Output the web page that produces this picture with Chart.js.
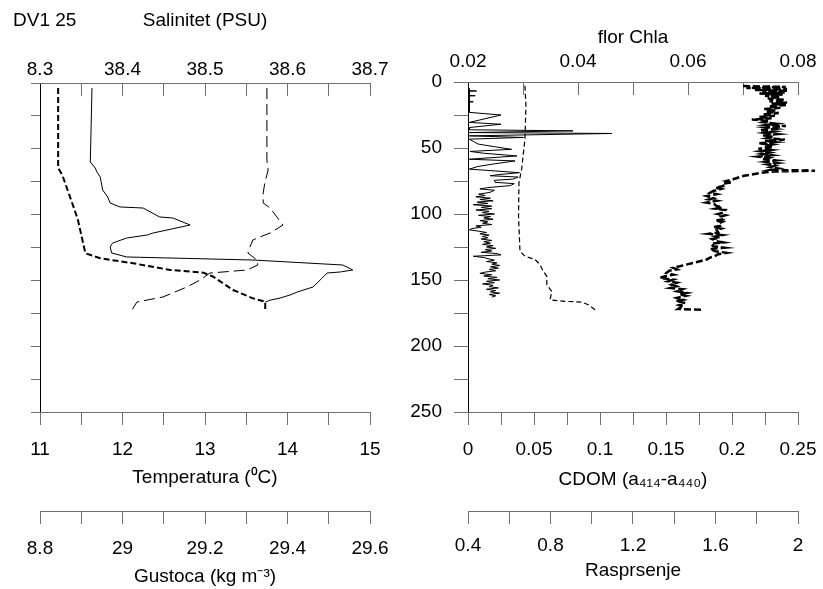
<!DOCTYPE html>
<html>
<head>
<meta charset="utf-8">
<title>DV1 25 profile</title>
<script src="https://cdn.jsdelivr.net/npm/chart.js@4.4.1/dist/chart.umd.min.js"></script>
<style>
  html, body { margin: 0; padding: 0; background: #fff; }
  #wrap { position: relative; width: 823px; height: 589px; overflow: hidden; }
  canvas { position: absolute; top: 0; }
  #left { left: 0; }
  #right { left: 395px; }
</style>
</head>
<body>
<div id="wrap">
  <canvas id="left" width="415" height="589"></canvas>
  <canvas id="right" width="444" height="589"></canvas>
</div>
<script>
// ---- tick labels (labels on every other tick) ----
const depthLabels = ['0', '50', '100', '150', '200', '250'];
const salinityLabels = ['8.3', '38.4', '38.5', '38.6', '38.7'];
const temperatureLabels = ['11', '12', '13', '14', '15'];
const densityLabels = ['8.8', '29', '29.2', '29.4', '29.6'];
const chlaLabels = ['0.02', '0.04', '0.06', '0.08'];
const cdomLabels = ['0', '0.05', '0.1', '0.15', '0.2', '0.25'];
const scatterLabels = ['0.4', '0.8', '1.2', '1.6', '2'];

// ---- left panel: temperature (thick dashed) ----
const tempDepth = [3.8, 64.6, 69.9, 91.2, 104.1, 129.4, 133.2, 137.0, 142.1, 144.1, 147.2, 157.3, 163.6, 166.2, 172.5];
const temperature = [11.22, 11.22, 11.27, 11.39, 11.46, 11.55, 11.73, 12.13, 12.58, 12.98, 13.10, 13.34, 13.58, 13.73, 13.73];

// ---- left panel: salinity (thin solid) ----
const salDepth = [3.8, 60.0, 64.6, 67.6, 71.4, 81.3, 86.6, 91.2, 94.2, 95.0, 101.8, 102.6, 107.9, 114.0, 115.5,
  117.8, 121.6, 124.6, 129.2, 132.2, 134.5, 138.3, 142.1, 143.6, 144.4, 148.2, 155.0, 158.8, 161.1, 163.4, 165.0, 166.5];
const salinity = [38.363, 38.361, 38.367, 38.369, 38.373, 38.376, 38.382, 38.385, 38.397, 38.425, 38.445, 38.461, 38.482, 38.437, 38.430,
  38.405, 38.388, 38.385, 38.387, 38.405, 38.558, 38.667, 38.679, 38.664, 38.648, 38.642, 38.631, 38.612, 38.603, 38.591, 38.579, 38.573];

// ---- left panel: density (thin long dash) ----
const denDepth = [3.8, 20.5, 58.5, 66.1, 76.0, 83.6, 91.2, 95.0, 107.9, 114.0, 117.0, 119.3, 124.6, 129.2, 134.5, 138.3,
  142.1, 144.4, 149.7, 155.0, 162.6, 166.4, 172.5];
const density = [29.350, 29.350, 29.350, 29.353, 29.345, 29.341, 29.341, 29.358, 29.389, 29.358, 29.333, 29.316, 29.309, 29.304, 29.326, 29.328,
  29.302, 29.212, 29.188, 29.156, 29.098, 29.035, 29.023];

// ---- right panel: CDOM (thin solid) ----
const cdomDepth = [5, 6.6, 6.8, 7.0, 10.2, 10.4, 10.6, 14.8, 15.0, 15.2, 23.0, 25.0, 30.6, 32.0, 34.5, 36.2, 37.0, 38.3, 39.0, 40.8,
  42.0, 43.3, 45, 47, 49, 51, 52.6, 54, 56, 58.5, 59.8, 62, 64, 66, 68.7, 70, 71, 72, 73.6, 74.5, 76, 77, 78.5, 80, 81, 82, 83.6, 85,
  86, 87, 88, 89, 90, 91, 92, 93, 94, 95, 96, 97, 98, 99, 100, 101, 102, 103, 104, 105, 106, 107, 108, 109, 110,
  111, 112, 113, 114, 115, 116, 117, 118, 119, 120, 121, 122, 123, 124, 125, 126, 127, 128, 129, 130, 131, 132, 133,
  134, 135, 136, 137, 138, 139, 140, 141, 142, 143, 144, 145, 146, 147, 148, 149, 150, 151, 152, 153, 154, 155, 156,
  157, 158, 159, 160, 161, 162, 163];
const cdom = [0.001, 0.001, 0.0065, 0.001, 0.001, 0.0055, 0.001, 0.001, 0.004, 0.001, 0.001, 0.025, 0.001, 0.025, 0.001, 0.001, 0.0795, 0.001, 0.109, 0.001,
  0.042, 0.001, 0.004, 0.0076, 0.020, 0.033, 0.0015, 0.012, 0.037, 0.001, 0.0356, 0.020, 0.0076, 0.001, 0.039, 0.025, 0.0167, 0.038, 0.034, 0.020, 0.0205, 0.035, 0.032, 0.015, 0.009, 0.020, 0.0167, 0.008,
  0.013, 0.006, 0.017, 0.009, 0.019, 0.007, 0.015, 0.004, 0.018, 0.010, 0.018, 0.006, 0.016, 0.011, 0.020, 0.008, 0.017, 0.012, 0.019, 0.009, 0.015, 0.011, 0.018, 0.006, 0.010,
  0.003, 0.001, 0.008, 0.014, 0.009, 0.016, 0.011, 0.015, 0.010, 0.018, 0.012, 0.017, 0.011, 0.019, 0.014, 0.021, 0.013, 0.018, 0.010, 0.022, 0.025, 0.004, 0.012,
  0.016, 0.020, 0.014, 0.022, 0.018, 0.024, 0.017, 0.023, 0.016, 0.021, 0.013, 0.009, 0.018, 0.012, 0.022, 0.015, 0.024, 0.014, 0.020, 0.011, 0.019, 0.016, 0.023,
  0.014, 0.021, 0.017, 0.024, 0.016, 0.021, 0.018];

// ---- right panel: scattering (thin dashed) ----
const scatDepth = [2.8, 18.0, 43.3, 66.1, 76.2, 101.6, 128.2, 132.0, 134.5, 138.3, 143.4, 147.2, 153.5, 158.6, 165.0, 166.2, 166.7, 168.7, 172.5];
const scattering = [0.676, 0.681, 0.676, 0.660, 0.647, 0.645, 0.652, 0.676, 0.725, 0.749, 0.765, 0.782, 0.782, 0.806, 0.798, 0.870, 0.951, 0.983, 1.016];

// ---- right panel: chlorophyll fluorescence (thick dashed) ----
const chlaDepth = [3.0, 3.8, 4.5, 5.3, 6.0, 6.6, 7.3, 8.0, 8.7, 9.5, 10.5, 11.5, 12.5, 13.5, 14.5, 15.5, 16.5, 17.5, 18.5, 19.5,
  20.5, 21.5, 22.5, 23.5, 24.5, 25.5, 26.5, 27.5, 28.5, 29.5, 30.5, 31.5, 32.5, 33.4, 34.5, 35.5, 36.5, 37.5, 38.5, 39.5,
  40.5, 41.5, 42.5, 43.6, 44.5, 45.5, 46.5, 47.5, 48.6, 49.5, 50.5, 51.5, 52.5, 53.5, 54.5, 55.5, 56.5, 57.5, 58.5, 59.5,
  60.5, 61.5, 62.5, 63.5, 64.5, 65.5, 66.5, 67.2, 67.8, 68.6, 69.9, 71.0, 72.0, 73.7, 75.0, 76.0, 77.0, 78.8, 80.0, 81.0,
  82.6, 84.0, 85.0, 86.4, 88.0, 89.0, 90.0, 91.4, 92.5, 94.0, 95.0, 96.0, 97.0, 99.0, 100.0, 101.0, 102.0, 104.0, 105.0, 106.0,
  107.0, 109.0, 110.0, 111.0, 112.0, 114.0, 115.0, 116.0, 117.0, 118.0, 119.0, 120.6, 121.5, 122.5, 124.4, 125.5, 126.5, 128.2, 129.4, 130.5,
  132.0, 133.0, 134.5, 136.0, 137.0, 138.5, 139.6, 140.8, 142.0, 143.0, 144.6, 146.0, 147.0, 148.4, 149.7, 151.0, 152.0, 153.5, 154.8, 156.0,
  157.0, 158.5, 159.8, 161.0, 162.0, 163.5, 164.9, 166.0, 167.5, 169.0, 170.0, 171.2, 172.0, 172.5];
const chla = [0.0700, 0.0778, 0.0706, 0.0780, 0.0722, 0.0782, 0.0735, 0.0776, 0.0730, 0.0772, 0.0740, 0.0768, 0.0745, 0.0776, 0.0748, 0.0780, 0.0752, 0.0778, 0.0746, 0.0768,
  0.0738, 0.0760, 0.0742, 0.0765, 0.0735, 0.0758, 0.0728, 0.0752, 0.0716, 0.0748, 0.0738, 0.0760, 0.0744, 0.0778, 0.0742, 0.0758, 0.0730, 0.0755, 0.0740, 0.0762,
  0.0736, 0.0756, 0.0745, 0.0776, 0.0740, 0.0758, 0.0728, 0.0752, 0.0738, 0.0755, 0.0728, 0.0750, 0.0732, 0.0748, 0.0735, 0.0752, 0.0728, 0.0746, 0.0736, 0.0760,
  0.0742, 0.0762, 0.0745, 0.0758, 0.0750, 0.0764, 0.0752, 0.0831, 0.0758, 0.0737, 0.0719, 0.0702, 0.0694, 0.0682, 0.0670, 0.0680, 0.0662, 0.0664, 0.0650, 0.0660,
  0.0646, 0.0640, 0.0652, 0.0634, 0.0646, 0.0638, 0.0652, 0.0634, 0.0648, 0.0652, 0.0662, 0.0650, 0.0668, 0.0664, 0.0655, 0.0668, 0.0660, 0.0664, 0.0650, 0.0662,
  0.0656, 0.0658, 0.0646, 0.0660, 0.0652, 0.0655, 0.0638, 0.0662, 0.0650, 0.0658, 0.0644, 0.0652, 0.0664, 0.0642, 0.0646, 0.0666, 0.0640, 0.0650, 0.0670, 0.0655,
  0.0648, 0.0640, 0.0634, 0.0620, 0.0610, 0.0595, 0.0585, 0.0573, 0.0580, 0.0566, 0.0561, 0.0574, 0.0560, 0.0549, 0.0573, 0.0564, 0.0580, 0.0570, 0.0579, 0.0568,
  0.0590, 0.0580, 0.0598, 0.0584, 0.0596, 0.0580, 0.0591, 0.0578, 0.0595, 0.0584, 0.0592, 0.0585, 0.0582, 0.0628];

Chart.defaults.font.family = "'Liberation Sans', Arial, sans-serif";
Chart.defaults.font.size = 19;
Chart.defaults.color = '#000';

const AXIS_GREY = '#707070';

/**
 * Label only every second tick, taking the text from a label list
 * (the tick array is reversed on a reversed axis)
 */
function everyOther(labels, reversed) {
  return (value, index, ticks) => {
    const i = reversed ? ticks.length - 1 - index : index;
    return i % 2 === 0 ? labels[i / 2] : '';
  };
}

/**
 * Horizontal value axis (top or bottom of a panel)
 */
function valueAxis(o) {
  return {
    type: 'linear',
    position: o.position,
    weight: o.weight || 0,
    min: o.min,
    max: o.max,
    ticks: {
      stepSize: o.step,
      autoSkip: false,
      minRotation: 0,
      maxRotation: 0,
      padding: o.labelPad,
      callback: everyOther(o.labels, false)
    },
    grid: { drawOnChartArea: false, drawTicks: true, tickLength: o.tick, color: AXIS_GREY, lineWidth: 1 },
    border: { display: true, color: AXIS_GREY, width: 1 },
    title: { display: true, text: o.title, padding: o.titlePad },
    afterFit: scale => { scale.height = o.height; }
  };
}

/**
 * Depth axis (shared range, reversed)
 */
function depthAxis(showLabels, width, tick) {
  return {
    type: 'linear',
    position: 'left',
    reverse: true,
    min: 0,
    max: 250,
    ticks: { display: showLabels, stepSize: 25, autoSkip: false, padding: 12, callback: everyOther(depthLabels, true) },
    grid: { drawOnChartArea: false, drawTicks: true, tickLength: tick, color: AXIS_GREY, lineWidth: 1 },
    border: { display: true, color: '#000', width: 1 },
    afterFit: scale => { scale.width = width; }
  };
}

/**
 * One depth profile drawn as a line
 */
function profile(depths, values, axisId, style) {
  return Object.assign({
    data: depths.map((d, i) => ({ x: values[i], y: d })),
    xAxisID: axisId,
    yAxisID: 'y',
    showLine: true,
    pointRadius: 0,
    borderColor: '#000',
    borderWidth: 1,
    fill: false,
    tension: 0
  }, style);
}

const baseOptions = {
  responsive: false,
  animation: false,
  devicePixelRatio: 1,
  events: []
};

// Left panel: temperature / salinity / density
new Chart(document.getElementById('left'), {
  type: 'scatter',
  data: {
    datasets: [
      profile(tempDepth, temperature, 'xTemp', { borderWidth: 2, borderDash: [6, 3] }),
      profile(salDepth, salinity, 'xSal', {}),
      profile(denDepth, density, 'xDen', { borderDash: [11, 5] })
    ]
  },
  options: {
    ...baseOptions,
    layout: { padding: { left: 13, right: 45, top: 0, bottom: 0 } },
    plugins: {
      legend: { display: false },
      tooltip: { enabled: false },
      title: {
        display: true, text: 'DV1 25', align: 'start',
        font: { size: 19, weight: 'normal' }, color: '#000',
        padding: { top: 9.6, bottom: 0 }
      }
    },
    scales: {
      y: depthAxis(false, 27, 9),
      xSal: valueAxis({ position: 'top', min: 38.3, max: 38.7, step: 0.05, labels: salinityLabels,
        title: 'Salinitet (PSU)', tick: -13, labelPad: 14.6, titlePad: { top: -22.8, bottom: 0 }, height: 50.6 }),
      xTemp: valueAxis({ position: 'bottom', weight: 0, min: 11, max: 15, step: 0.5, labels: temperatureLabels,
        title: 'Temperatura (⁰C)', tick: 13, labelPad: 13.1, titlePad: { top: 0, bottom: 22 }, height: 99 }),
      xDen: valueAxis({ position: 'bottom', weight: 1, min: 28.8, max: 29.6, step: 0.1, labels: densityLabels,
        title: 'Gustoca (kg m⁻³)', tick: 13, labelPad: 13.6, titlePad: { top: 0, bottom: 1 }, height: 78 })
    }
  }
});

// Right panel: chlorophyll fluorescence / CDOM / scattering
new Chart(document.getElementById('right'), {
  type: 'scatter',
  data: {
    datasets: [
      profile(cdomDepth, cdom, 'xCdom', {}),
      profile(scatDepth, scattering, 'xScat', { borderWidth: 1.2, borderDash: [5, 3] }),
      profile(chlaDepth, chla, 'xChla', { borderWidth: 2.5, borderDash: [7, 3], clip: false })
    ]
  },
  options: {
    ...baseOptions,
    layout: { padding: { left: 0, right: 41, top: 10, bottom: 0 } },
    plugins: {
      legend: { display: false },
      tooltip: { enabled: false }
    },
    scales: {
      y: depthAxis(true, 73, 14),
      xChla: valueAxis({ position: 'top', min: 0.02, max: 0.08, step: 0.01, labels: chlaLabels,
        title: 'flor Chla', tick: -13, labelPad: 22.1, titlePad: { top: 16.1, bottom: 0 }, height: 72 }),
      xCdom: valueAxis({ position: 'bottom', weight: 0, min: 0, max: 0.25, step: 0.025, labels: cdomLabels,
        title: 'CDOM (a₄₁₄-a₄₄₀)', tick: 13, labelPad: 13.1, titlePad: { top: 0, bottom: 20 }, height: 99 }),
      xScat: valueAxis({ position: 'bottom', weight: 1, min: 0.4, max: 2, step: 0.2, labels: scatterLabels,
        title: 'Rasprsenje', tick: 13, labelPad: 10.1, titlePad: { top: 0, bottom: 7 }, height: 78 })
    }
  }
});
</script>
</body>
</html>
